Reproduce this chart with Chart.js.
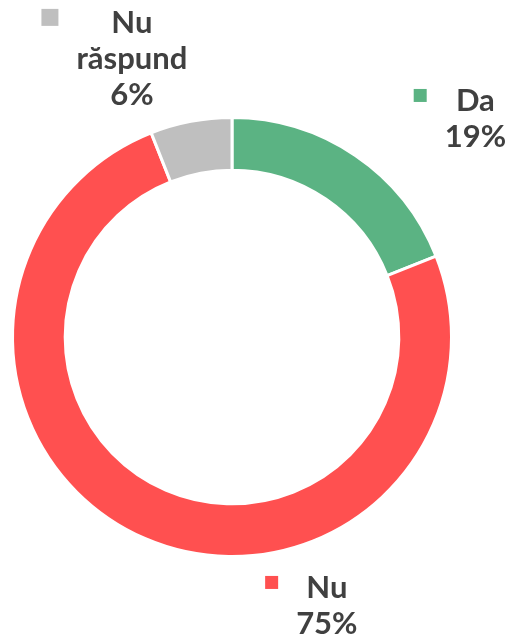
<!DOCTYPE html>
<html>
<head>
<meta charset="utf-8">
<script src="https://cdn.jsdelivr.net/npm/chart.js@4/dist/chart.umd.min.js"></script>
<style>
  html, body { margin: 0; padding: 0; background: #fff; }
  #wrap { width: 508px; height: 634px; }
</style>
</head>
<body>
<div id="wrap"><canvas id="chart"></canvas></div>
<script>
// data
const labels = ['Da', 'Nu', 'Nu răspund'];
const values = [19, 75, 6];
const colors = ['#5BB383', '#FF5050', '#BFBFBF'];

// label text lines (name may wrap)
const labelLines = [['Da'], ['Nu'], ['Nu', 'răspund']];
// label offsets from outer arc midpoint (layout only)
const labelDx = [120, 182, -59];
const labelDy = [-44, 60, -88];
const markerSize = [13, 13, 17];

const LINE_H = 36;

const labelPlugin = {
    id: 'outLabels',
    afterDatasetsDraw(chart) {
        const ctx = chart.ctx;
        const meta = chart.getDatasetMeta(0);
        const total = values.reduce((a, b) => a + b, 0);
        ctx.save();
        ctx.font = 'bold 31px Lato, "Open Sans", sans-serif';
        ctx.fillStyle = '#404040';
        ctx.textAlign = 'center';
        ctx.textBaseline = 'alphabetic';
        meta.data.forEach((arc, i) => {
            const mid = (arc.startAngle + arc.endAngle) / 2;
            const ox = arc.x + Math.cos(mid) * arc.outerRadius;
            const oy = arc.y + Math.sin(mid) * arc.outerRadius;
            const cx = ox + labelDx[i];
            let y = oy + labelDy[i];
            const lines = labelLines[i].concat([Math.round(values[i] / total * 100) + '%']);
            // marker to the left of the widest line
            const widest = Math.max(...lines.map(l => ctx.measureText(l).width));
            const s = markerSize[i];
            const mx = cx - widest / 2 - 18 - s;
            ctx.fillStyle = colors[i];
            ctx.fillRect(mx, y - 16 - s / 2, s, s);
            ctx.fillStyle = '#404040';
            lines.forEach((l) => {
                ctx.fillText(l, cx, y);
                y += LINE_H;
            });
        });
        ctx.restore();
    }
};

new Chart(document.getElementById('chart'), {
    type: 'doughnut',
    data: {
        labels: labels,
        datasets: [{
            data: values,
            backgroundColor: colors,
            borderColor: '#ffffff',
            borderWidth: 3
        }]
    },
    options: {
        responsive: true,
        maintainAspectRatio: false,
        animation: false,
        cutout: '76%',
        layout: { padding: { left: 11, right: 55, top: 116, bottom: 76 } },
        plugins: {
            legend: { display: false },
            tooltip: { enabled: false }
        }
    },
    plugins: [labelPlugin]
});
</script>
</body>
</html>
